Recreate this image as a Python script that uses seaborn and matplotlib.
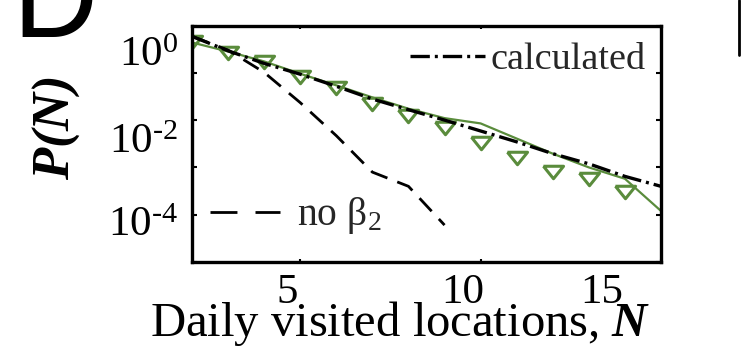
import matplotlib
matplotlib.use("Agg")
import matplotlib.pyplot as plt
import seaborn as sns
import pandas as pd
from matplotlib.lines import Line2D
from matplotlib.transforms import ScaledTranslation

# ---- data ----
N_data = [2, 3, 4, 5, 6, 7, 8, 9, 10, 11, 12, 13, 14]
P_data = [0.442, 0.257, 0.166, 0.0813, 0.0468, 0.0221, 0.0123, 0.00668,
          0.00324, 0.00158, 0.000813, 0.000556, 0.000295]

N_sim = [2, 3, 4, 5, 6, 7, 8, 9, 10, 11, 12, 13, 14, 15]
P_sim = [0.437, 0.282, 0.174, 0.0955, 0.0543, 0.0302, 0.0174, 0.0110,
         0.00851, 0.00407, 0.00195, 0.00100, 0.000575, 0.000120]

N_calc = [2, 3, 4, 5, 6, 7, 8, 9, 10, 11, 12, 13, 14, 15]
P_calc = [0.589, 0.292, 0.158, 0.0933, 0.0519, 0.0279, 0.0166, 0.0100,
          0.00589, 0.00347, 0.00195, 0.00119, 0.000646, 0.000398]

N_nobeta = [2, 3, 4, 5, 6, 7, 8, 9]
P_nobeta = [0.589, 0.302, 0.102, 0.0234, 0.00468, 0.000794, 0.000398, 0.0000603]

x_ticks = [5, 10, 15]
x_ticklabels = ["5", "10", "15"]
y_ticks = [1, 1e-1, 1e-2, 1e-3, 1e-4, 1e-5]
y_ticklabels = [r"$\mathregular{10^{0}}$", "", r"$\mathregular{10^{\text{-}2}}$", "",
                r"$\mathregular{10^{\text{-}4}}$", ""]
label_calc = "calculated"
label_nobeta = r"no $\mathrm{\beta_{2}}$"
xlabel = r"Daily visited locations, $\mathbf{N}$"
ylabel = r"$\mathbf{P(N)}$"
panel = "D"

GREEN = "#5a8c3c"

sns.set_theme(style="ticks")
plt.rcParams.update({
    "font.family": ["Liberation Serif", "DejaVu Serif"],
    "mathtext.fontset": "custom",
    "mathtext.rm": "Liberation Serif",
    "mathtext.it": "Liberation Serif:italic",
    "mathtext.bf": "Liberation Serif:bold:italic",
    "axes.linewidth": 2.4,
    "axes.edgecolor": "black",
})

fig = plt.figure(figsize=(7.48, 3.6), dpi=100)
L, R, T, B = 192, 661, 25.5, 262
ax = fig.add_axes([L / 748, 1 - B / 360, (R - L) / 748, (B - T) / 360])

df_data = pd.DataFrame({"N": N_data, "P": P_data})
df_sim = pd.DataFrame({"N": N_sim, "P": P_sim})
df_calc = pd.DataFrame({"N": N_calc, "P": P_calc})
df_nob = pd.DataFrame({"N": N_nobeta, "P": P_nobeta})

sns.lineplot(data=df_sim, x="N", y="P", ax=ax, color=GREEN, linewidth=1.6)
tri = [(-1, 0.62), (1, 0.62), (0, -0.62), (-1, 0.62)]
sns.lineplot(data=df_data, x="N", y="P", ax=ax, linestyle="none",
             marker=tri, markersize=14.5, markerfacecolor="none",
             markeredgecolor=GREEN, markeredgewidth=2.2, color=GREEN)
sns.lineplot(data=df_nob, x="N", y="P", ax=ax, color="black", linewidth=2.0)
ax.lines[-1].set_dashes((6.4, 3.8))
sns.lineplot(data=df_calc, x="N", y="P", ax=ax, color="black", linewidth=2.4)
ax.lines[-1].set_dashes((5.8, 1.5, 0.9, 1.5))

ax.set_yscale("log")
ax.set_xlim(2, 15)
ax.set_ylim(1e-5, 1)

ax.set_xticks(x_ticks)
ax.set_xticklabels(x_ticklabels)
ax.set_yticks(y_ticks)
ax.set_yticklabels(y_ticklabels)

ax.tick_params(axis="both", which="both", direction="in", top=True, right=True,
               colors="black", labelsize=31)
ax.tick_params(axis="y", which="major", length=3.6, width=1.5, pad=10)
ax.tick_params(axis="y", which="minor", length=1.8, width=1.0)
ax.tick_params(axis="x", which="major", length=2.0, width=1.5, pad=8)
ax.tick_params(axis="x", which="minor", length=0)

# shift tick labels to where they sit in the reference
x_offsets_px = [-13.5, -18, -59]
for lab, dx in zip(ax.get_xticklabels(), x_offsets_px):
    lab.set_transform(lab.get_transform() + ScaledTranslation(dx / 100, 0, fig.dpi_scale_trans))
y_offsets_px = [-26, 0, -18, 0, -7, 0]
for lab, dy in zip(ax.get_yticklabels(), y_offsets_px):
    lab.set_transform(lab.get_transform() + ScaledTranslation(0, dy / 100, fig.dpi_scale_trans))

ax.set_xlabel(xlabel, fontsize=35, color="black")
ax.xaxis.set_label_coords((400 - L) / (R - L), (B - 299) / (B - T))
ax.set_ylabel(ylabel, fontsize=38, color="black")
ax.yaxis.set_label_coords((82 - L) / (R - L), 1 - (127.5 - T) / (B - T))

h_calc = Line2D([], [], color="black", linewidth=2.4, dashes=(5.8, 1.5, 0.9, 1.5))
leg1 = ax.legend([h_calc], [label_calc], loc="center right",
                 bbox_to_anchor=((646 - L) / (R - L), 1 - (60 - T) / (B - T)),
                 frameon=False, fontsize=27.5, handlelength=1.96,
                 handletextpad=0.15, borderpad=0, borderaxespad=0)
ax.add_artist(leg1)
h_nob = Line2D([], [], color="black", linewidth=2.0, dashes=(9.7, 6.5))
ax.legend([h_nob], [label_nobeta], loc="center left",
          bbox_to_anchor=((210 - L) / (R - L), 1 - (216 - T) / (B - T)),
          frameon=False, fontsize=28.5, handlelength=1.76,
          handletextpad=0.45, borderpad=0, borderaxespad=0)

fig.text(12 / 748, 1 - 37 / 360, panel, fontsize=85, family="Liberation Sans",
         ha="left", va="baseline", color="black")
fig.add_artist(Line2D([739 / 748, 739 / 748], [1, 1 - 55 / 360], color="black",
                      linewidth=2.0, transform=fig.transFigure))

fig.savefig("out.png", dpi=100)
